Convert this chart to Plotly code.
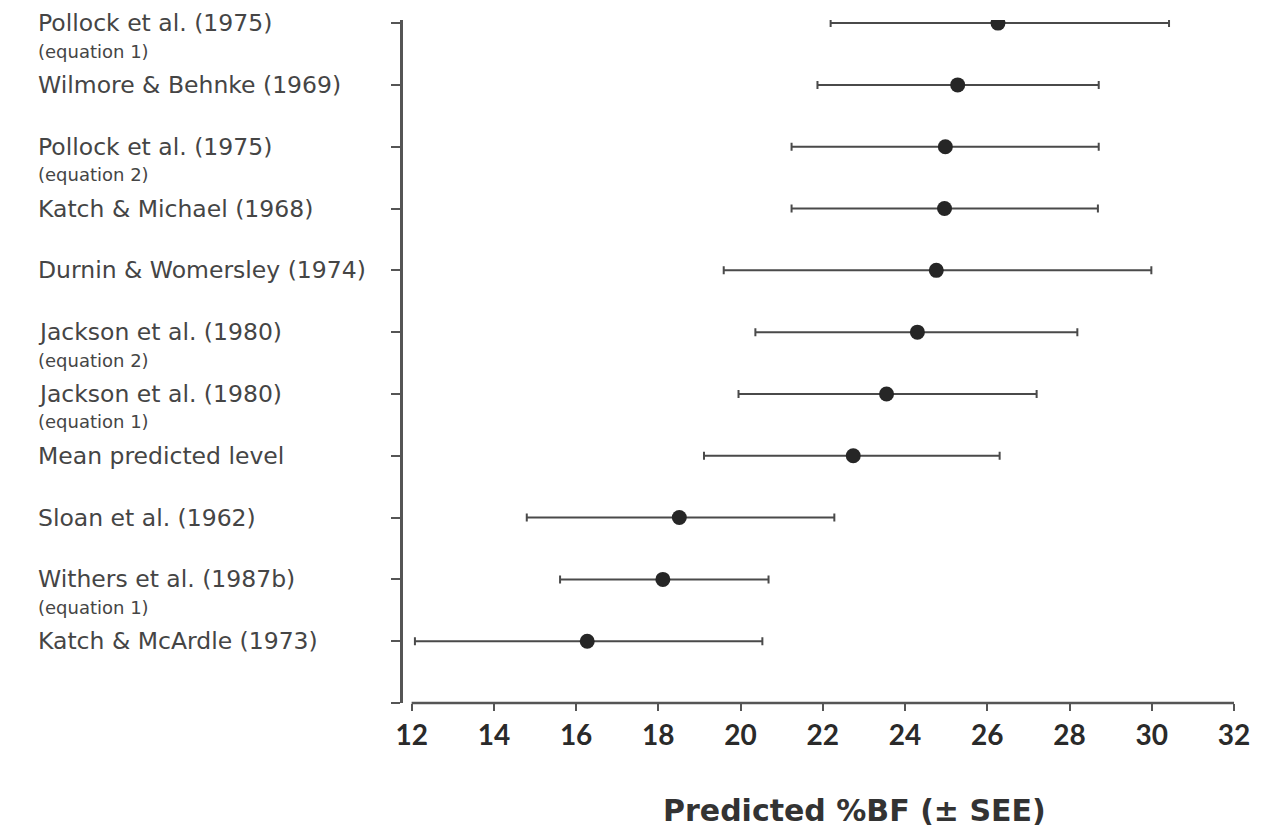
import plotly.graph_objects as go

studies = [
    "Pollock et al. (1975)",
    "Wilmore & Behnke (1969)",
    "Pollock et al. (1975)",
    "Katch & Michael (1968)",
    "Durnin & Womersley (1974)",
    "Jackson et al. (1980)",
    "Jackson et al. (1980)",
    "Mean predicted level",
    "Sloan et al. (1962)",
    "Withers et al. (1987b)",
    "Katch & McArdle (1973)",
]
notes = ["(equation 1)", "", "(equation 2)", "", "", "(equation 2)", "(equation 1)", "", "", "(equation 1)", ""]
means = [26.26, 25.28, 24.98, 24.96, 24.76, 24.30, 23.55, 22.74, 18.51, 18.11, 16.27]
lows = [22.19, 21.87, 21.24, 21.24, 19.59, 20.36, 19.95, 19.11, 14.80, 15.61, 12.08]
highs = [30.42, 28.71, 28.71, 28.69, 29.99, 28.19, 27.20, 26.30, 22.28, 20.68, 20.53]
x_ticks = [12, 14, 16, 18, 20, 22, 24, 26, 28, 30, 32]

n = len(studies)
ypos = [n - i for i in range(n)]
err_plus = [h - m for h, m in zip(highs, means)]
err_minus = [m - l for m, l in zip(means, lows)]

LABEL_FONT = "DejaVu Sans"
TXT = "#454545"
AX = "#555555"

fig = go.Figure()
fig.add_trace(go.Scatter(
    x=means, y=ypos, mode="markers",
    marker=dict(size=15, color="#262626"),
    error_x=dict(type="data", symmetric=False, array=err_plus, arrayminus=err_minus,
                 color="#4a4a4a", thickness=2, width=4),
    showlegend=False, hoverinfo="x",
))

# x axis baseline from 12 to 32
fig.add_shape(type="line", xref="x", yref="paper", x0=x_ticks[0], x1=x_ticks[-1], y0=0, y1=0,
              line=dict(color=AX, width=2.5))

for s, nt, y in zip(studies, notes, ypos):
    fig.add_annotation(xref="paper", yref="y", x=-0.4411, y=y, xanchor="left", yanchor="middle",
                       text=s, showarrow=False, font=dict(family=LABEL_FONT, size=23.5, color=TXT))
    if nt:
        fig.add_annotation(xref="paper", yref="y", x=-0.4411, y=y, yshift=-28, xanchor="left",
                           yanchor="middle", text=nt, showarrow=False,
                           font=dict(family=LABEL_FONT, size=18, color=TXT))

fig.add_annotation(xref="paper", yref="paper", x=0.5434, y=-0.157, xanchor="center", yanchor="middle",
                   text="<b>Predicted %BF (± SEE)</b>", showarrow=False, borderpad=0,
                   font=dict(family="DejaVu Sans", size=30, color="#333333"))

fig.update_xaxes(range=[11.79, 32.0], tickvals=x_ticks, ticktext=[str(t) for t in x_ticks],
                 ticks="outside", ticklen=7, tickcolor=AX, tickwidth=2, showline=False,
                 showgrid=False, zeroline=False,
                 tickfont=dict(family="Lato", size=28, color="#2a2a2a", weight="bold"))
fig.update_yaxes(range=[0, 11.05], tickvals=list(range(0, n + 1)), showticklabels=False,
                 ticks="outside", ticklen=9, tickcolor=AX, tickwidth=2,
                 showline=True, linecolor=AX, linewidth=2.5, showgrid=False, zeroline=False)

fig.update_layout(width=1254, height=823, margin=dict(l=395, r=18, t=12, b=128),
                  plot_bgcolor="white", paper_bgcolor="white", font=dict(family="Lato"))

fig.write_html("out.html")
